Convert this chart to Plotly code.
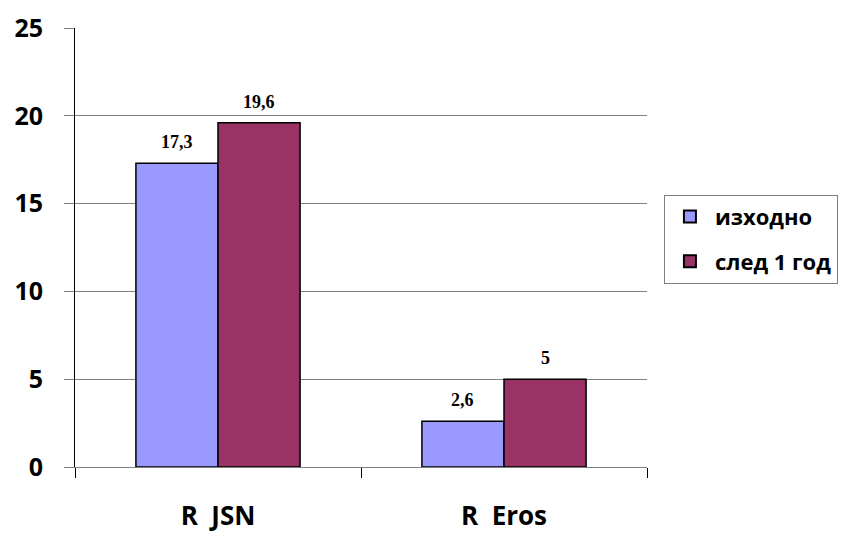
import plotly.graph_objects as go

categories = ["R  JSN", "R  Eros"]
series_names = ["изходно", "след 1 год"]
baseline = [17.3, 2.6]
after_year = [19.6, 5]
y_ticks = [0, 5, 10, 15, 20, 25]

colors = ["#9999FF", "#993366"]


def fmt(v):
    return f"{v:g}".replace(".", ",")


fig = go.Figure()
for k, (name, vals, col) in enumerate(zip(series_names, [baseline, after_year], colors)):
    fig.add_trace(go.Bar(
        x=categories, y=vals, name=name, legendgroup=f"g{k}",
        marker=dict(color=col, line=dict(color="black", width=1.5)),
    ))

# value labels above each bar
offsets = [-0.5, 0.5]
for vals, off in zip([baseline, after_year], offsets):
    for i, v in enumerate(vals):
        fig.add_annotation(
            x=i, y=v, xref="x", yref="y", text=f"<b>{fmt(v)}</b>",
            showarrow=False, yanchor="bottom", yshift=9,
            xshift=off * 82.5,
            font=dict(family="Liberation Serif", size=18, color="black"),
        )

fig.update_layout(
    width=850, height=533,
    margin=dict(l=75, r=200, t=28, b=66),
    paper_bgcolor="white", plot_bgcolor="white",
    barmode="group", bargap=0.426, bargroupgap=0,
    font=dict(family="Open Sans", color="black"),
    legend=dict(
        x=1.0296, y=0.62, xanchor="left", yanchor="top",
        bordercolor="#808080", borderwidth=1,
        font=dict(family="Open Sans", size=22, color="black", weight="bold"),
        itemsizing="constant", tracegroupgap=13, itemwidth=40,
    ),
    showlegend=True,
)

fig.update_xaxes(
    automargin=False,
    showline=True, linecolor="#808080", linewidth=1,
    ticks="outside", tickson="boundaries", ticklen=10, tickcolor="black",
    tickfont=dict(family="Open Sans", size=26, color="black", weight="bold"),
    ticklabelstandoff=26,
    showgrid=False,
)
fig.update_yaxes(
    automargin=False,
    range=[0, 25], tickvals=y_ticks,
    showline=True, linecolor="black", linewidth=1,
    ticks="outside", ticklen=10, tickcolor="#808080",
    showgrid=True, gridcolor="#808080", gridwidth=1,
    zeroline=False,
    tickfont=dict(family="Open Sans", size=25, color="black", weight="bold"),
    ticklabelstandoff=16,
)

fig.write_html("out.html")
